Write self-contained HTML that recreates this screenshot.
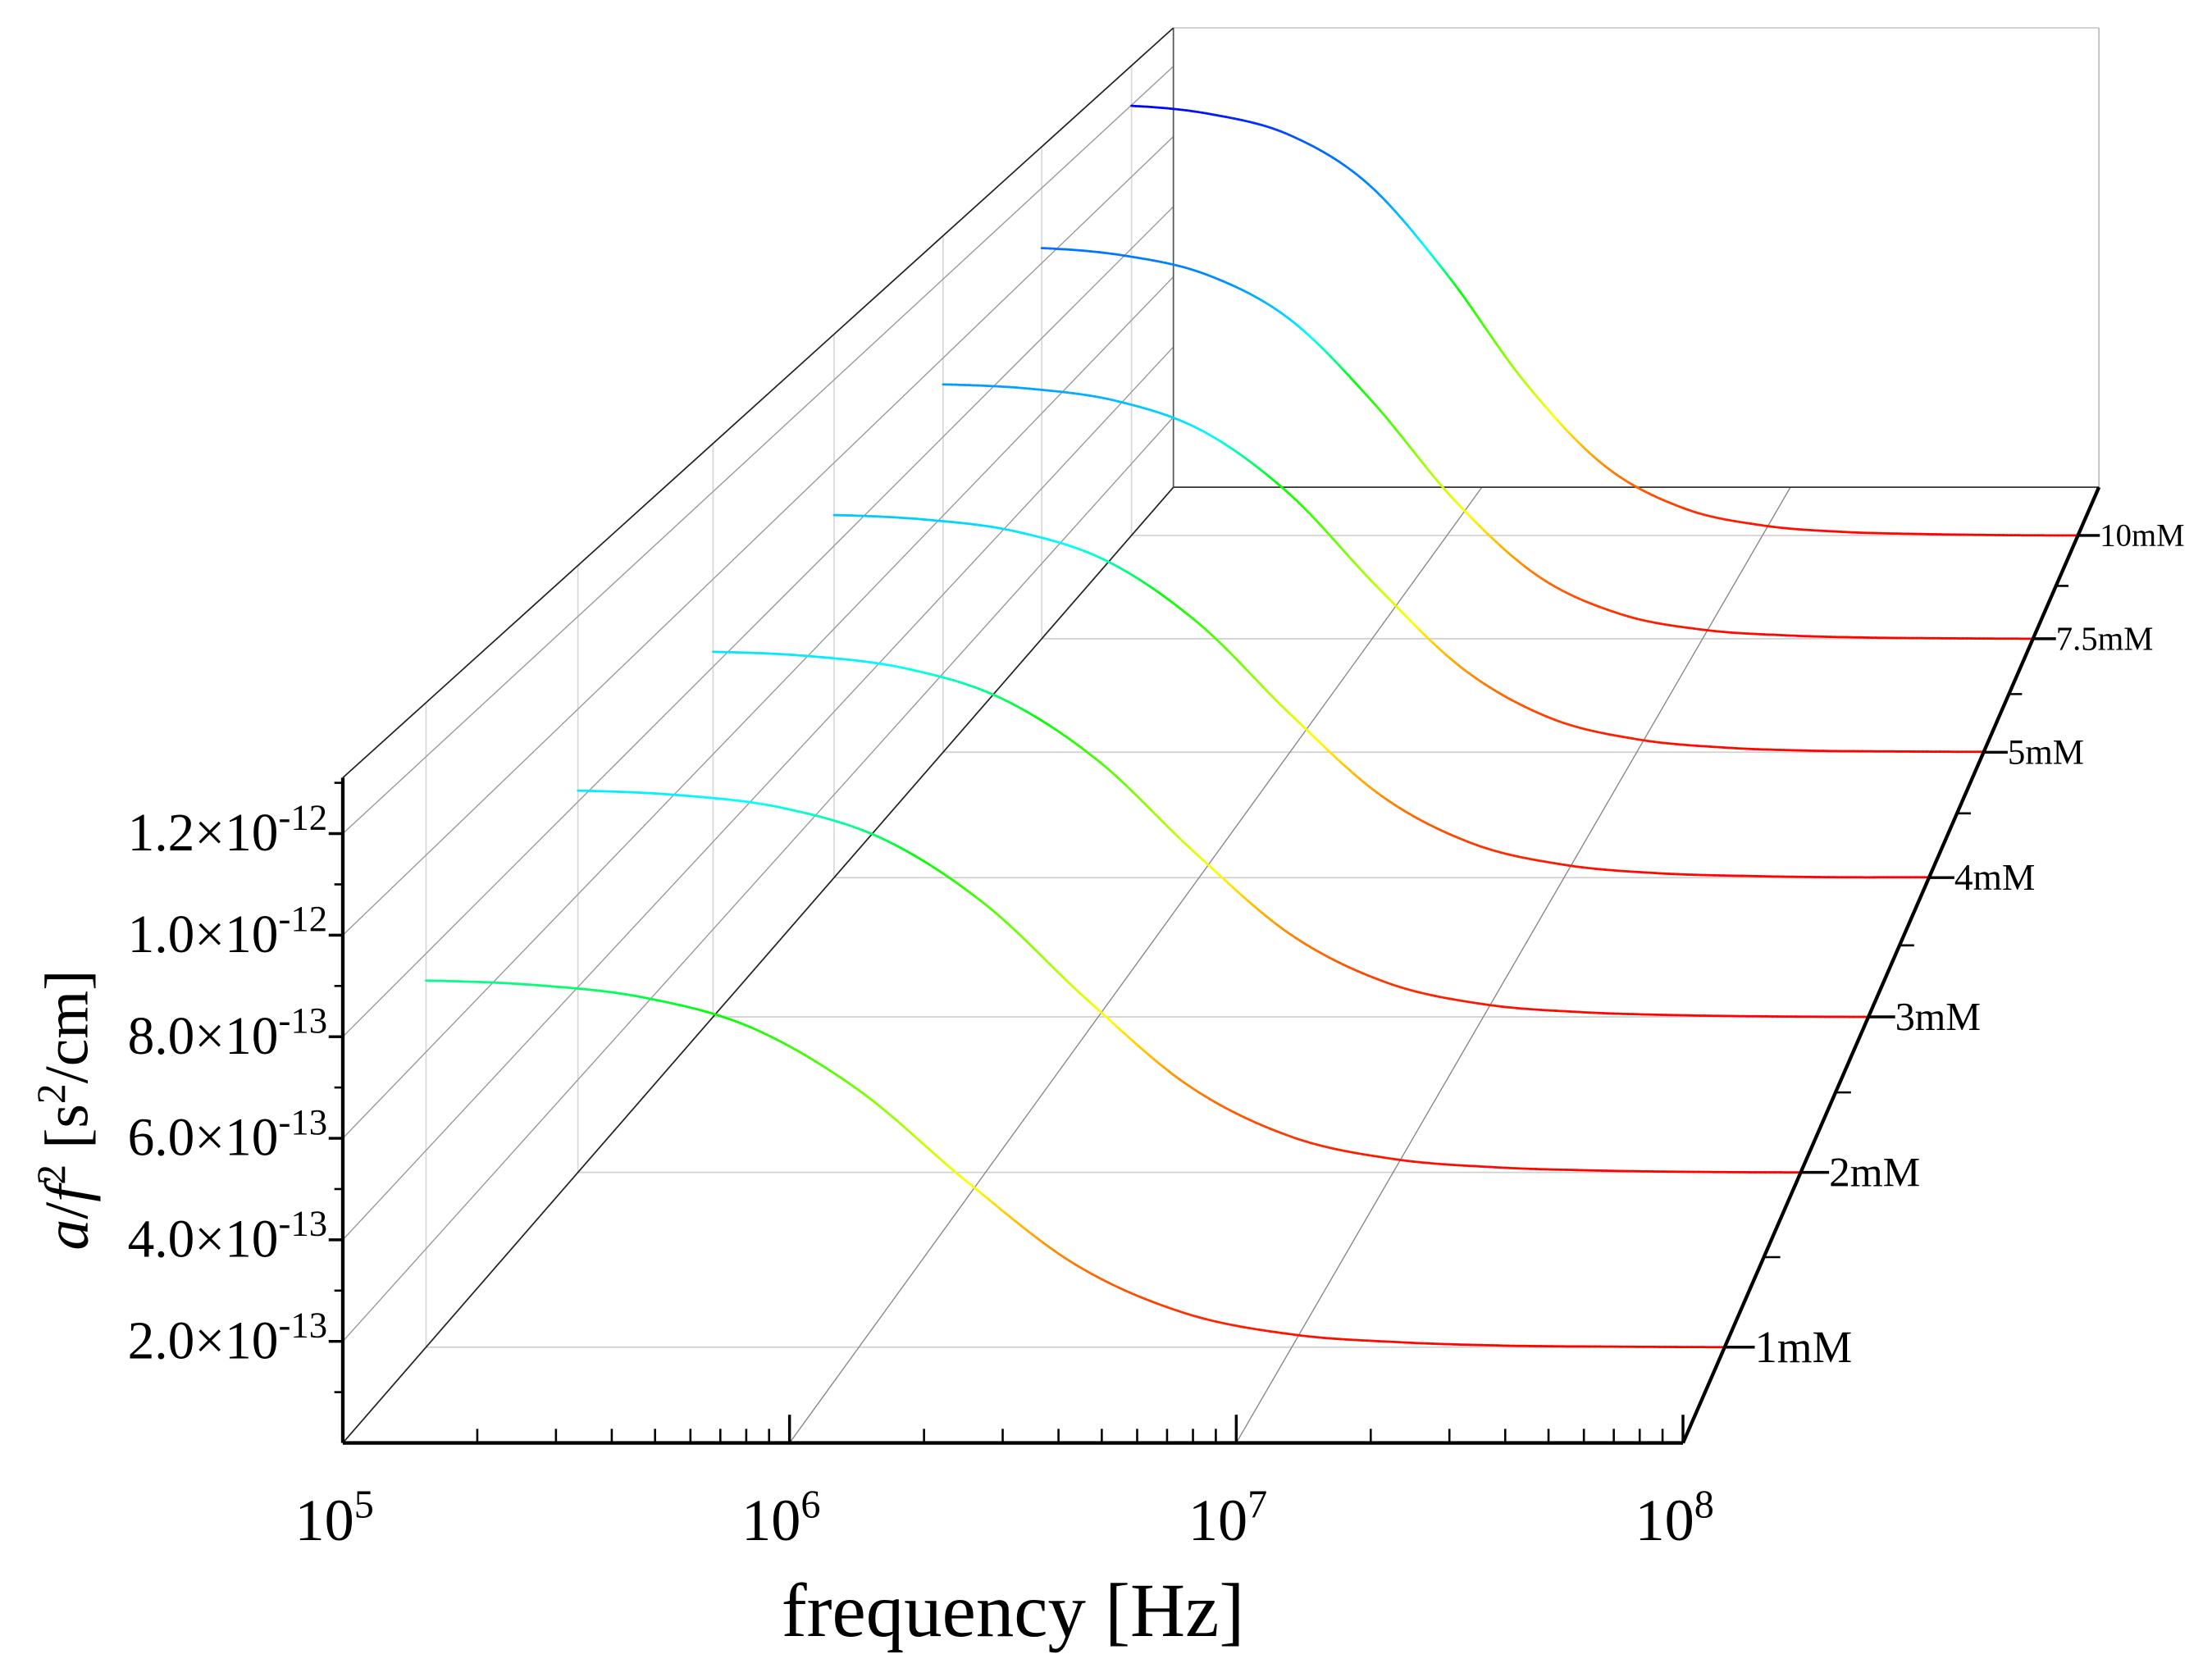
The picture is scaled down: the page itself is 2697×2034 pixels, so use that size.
<!DOCTYPE html>
<html><head><meta charset="utf-8">
<style>
html,body{margin:0;padding:0;background:#fff;}
svg{display:block;}
text{font-family:"Liberation Serif",serif;fill:#000;}
</style></head>
<body>
<svg id="chart" xmlns="http://www.w3.org/2000/svg" width="2697" height="2034" viewBox="0 0 1568 1182.56">
<rect x="0" y="0" width="1568" height="1182.56" fill="#fff"/>
<g id="grid"></g>
<g id="series"></g>
<g id="axes"></g>
<text x="718" y="1160" font-size="54" text-anchor="middle">frequency [Hz]</text>
<text transform="translate(62,787) rotate(-90)" font-size="44" text-anchor="middle"><tspan font-style="italic">a</tspan>/<tspan font-style="italic">f</tspan><tspan dy="-16" font-size="29">2</tspan><tspan dy="16"> [s</tspan><tspan dy="-16" font-size="29">2</tspan><tspan dy="16">/cm]</tspan></text>
</svg>
<script>
const seriesNames = ["1mM","2mM","3mM","4mM","5mM","7.5mM","10mM"];
const logFreqs = [5,5.25,5.5,5.75,6,6.25,6.5,6.75,7,7.25,7.5,7.75,8];
const s1 = [0.745,0.736,0.711,0.650,0.522,0.336,0.168,0.070,0.026,0.010,0.003,0.001,0.000];
const s2 = [0.824,0.814,0.787,0.719,0.578,0.372,0.186,0.077,0.029,0.011,0.004,0.001,0.000];
const s3 = [0.834,0.824,0.796,0.727,0.585,0.376,0.188,0.078,0.029,0.011,0.004,0.001,0.000];
const s4 = [0.874,0.863,0.834,0.762,0.612,0.394,0.197,0.082,0.031,0.011,0.004,0.001,0.001];
const s5 = [0.933,0.922,0.891,0.814,0.654,0.421,0.211,0.087,0.033,0.012,0.004,0.002,0.001];
const s75 = [1.040,1.020,0.969,0.851,0.632,0.368,0.168,0.066,0.024,0.009,0.003,0.001,0.000];
const s10 = [1.198,1.175,1.117,0.980,0.728,0.424,0.194,0.076,0.028,0.010,0.004,0.001,0.000];
const yTicks = [0.2,0.4,0.6,0.8,1.0,1.2];
const yTickLabels = ["2.0","4.0","6.0","8.0","1.0","1.2"];
const yTickExps = ["-13","-13","-13","-13","-12","-12"];
const xDecades = [5,6,7,8];

const allSeries = [s1,s2,s3,s4,s5,s75,s10];
const NS = "http://www.w3.org/2000/svg";
const VPX = 2146, VPY = -1167, K = 0.064, VMAX = 1.31;
function depthScale(d){ return 1/(1+K*(d+0.5)); }
function proj(L, v, d){
  const s = depthScale(d);
  const X0 = 243 + 316.67*(L-5), Y0 = 1023 - 360*v;
  return [VPX + (X0-VPX)*s, VPY + (Y0-VPY)*s];
}
function el(tag, attrs, parent){
  const e = document.createElementNS(NS, tag);
  for (const k in attrs) e.setAttribute(k, attrs[k]);
  parent.appendChild(e); return e;
}
function line(p, q, stroke, w, parent, name){
  const e = el('line',{x1:p[0],y1:p[1],x2:q[0],y2:q[1],stroke:stroke,'stroke-width':w},parent);
  
  
  return e;
}
const grid = document.getElementById('grid');
const axes = document.getElementById('axes');
const ser = document.getElementById('series');
const D0=-0.5, D1=seriesNames.length-0.5;
for (let i=0;i<seriesNames.length;i++){
  line(proj(5,0,i), proj(5,VMAX,i), '#d8d8d8', 1, grid, 'wall-grid-vertical');
  line(proj(5,0,i), proj(8,0,i), '#d0d0d0', 1, grid, 'floor-grid-depth');
}
for (let j=0;j<yTicks.length;j++){
  line(proj(5,yTicks[j],D0), proj(5,yTicks[j],D1), '#999', 0.8, grid, 'wall-grid-y');
}
for (const L of [6,7]) line(proj(L,0,D0), proj(L,0,D1), '#888', 0.8, grid, 'floor-grid-decade');
line(proj(5,VMAX,D1), proj(8,VMAX,D1), '#ccc', 1, grid, 'back-wall-top');
line(proj(8,0,D1), proj(8,VMAX,D1), '#bbb', 1, grid, 'back-wall-right');
line(proj(5,0,D1), proj(5,VMAX,D1), '#555', 1, grid, 'back-wall-left');
line(proj(5,0,D1), proj(8,0,D1), '#333', 1, grid, 'back-floor-edge');
line(proj(5,0,D0), proj(5,0,D1), '#222', 1, grid, 'left-floor-edge');
line(proj(5,VMAX,D0), proj(5,VMAX,D1), '#222', 1, grid, 'left-top-edge');

const stops = [[0,[255,0,0]],[0.18,[255,128,0]],[0.33,[255,255,0]],[0.5,[128,255,0]],[0.68,[0,255,0]],[0.8,[0,255,255]],[0.95,[0,144,255]],[1.1,[0,96,255]],[1.2,[0,0,255]]];
function color(v){
  if (v<=stops[0][0]) return 'rgb(255,0,0)';
  for (let i=1;i<stops.length;i++){
    if (v<=stops[i][0]){
      const a=stops[i-1], b=stops[i], t=(v-a[0])/(b[0]-a[0]);
      const c=a[1].map((x,k)=>Math.round(x+(b[1][k]-x)*t));
      return 'rgb('+c.join(',')+')';
    }
  }
  return 'rgb(0,0,255)';
}
function interp(vals, L){
  const h = logFreqs[1]-logFreqs[0];
  let i = Math.min(Math.floor((L-logFreqs[0])/h), vals.length-2);
  const t = (L-logFreqs[i])/h;
  const p0 = vals[Math.max(i-1,0)], p1=vals[i], p2=vals[i+1], p3=vals[Math.min(i+2,vals.length-1)];
  return 0.5*((2*p1)+(-p0+p2)*t+(2*p0-5*p1+4*p2-p3)*t*t+(-p0+3*p1-3*p2+p3)*t*t*t);
}
for (let i=0;i<allSeries.length;i++){
  const g = el('g',{},ser);
  
  
  const N=240; let prev=null, pv=0;
  for (let n=0;n<=N;n++){
    const L = 5 + 3*n/N;
    const v = Math.max(interp(allSeries[i], L), 0);
    const p = proj(L, v, i);
    if (prev){
      const seg = el('line',{x1:prev[0],y1:prev[1],x2:p[0],y2:p[1],stroke:color((v+pv)/2),'stroke-width':1.6,'stroke-linecap':'round'},g);
      
      
    }
    prev=p; pv=v;
  }
}
line(proj(5,0,D0), proj(8,0,D0), '#000', 2.5, axes, 'x-axis-line');
line(proj(5,0,D0), proj(5,VMAX,D0), '#000', 2.5, axes, 'y-axis-line');
line(proj(8,0,D0), proj(8,0,D1), '#000', 2.5, axes, 'depth-axis-line');
for (let dec=5; dec<8; dec++){
  for (let m=2;m<=9;m++){
    const p = proj(dec+Math.log10(m),0,D0);
    line(p,[p[0],p[1]-10],'#000',1.5,axes,'x-minor-tick');
  }
}
for (const L of xDecades){
  const p = proj(L,0,D0);
  line(p,[p[0],p[1]-20],'#000',2,axes,'x-major-tick');
  const t = el('text',{x:p[0]-6,y:1092,'font-size':42,'text-anchor':'middle'},axes);
  
  
  t.innerHTML = '10<tspan dy="-16" font-size="28">'+L+'</tspan>';
}
for (let j=0;j<yTicks.length;j++){
  const p = proj(5,yTicks[j],D0);
  line(p,[p[0]-10,p[1]],'#000',2,axes,'y-major-tick');
  const pm = proj(5,yTicks[j]-0.1,D0);
  line(pm,[pm[0]-6,pm[1]],'#000',1.5,axes,'y-minor-tick');
  const t = el('text',{x:232,y:p[1]+12,'font-size':38,'text-anchor':'end'},axes);
  
  
  t.innerHTML = yTickLabels[j]+'×10<tspan dy="-15" font-size="26">'+yTickExps[j]+'</tspan>';
}
const pmt = proj(5,1.3,D0); line(pmt,[pmt[0]-6,pmt[1]],'#000',1.5,axes,'y-minor-tick');
for (let i=0;i<seriesNames.length;i++){
  const p = proj(8,0,i), s = depthScale(i);
  line(p,[p[0]+22*s,p[1]],'#000',2,axes,'depth-major-tick');
  const pm = proj(8,0,i+0.5);
  if (i<seriesNames.length-1) line(pm,[pm[0]+12*s,pm[1]],'#000',1.5,axes,'depth-minor-tick');
  const fs = 33*Math.pow(s,1.1);
  const t = el('text',{x:p[0]+22*s,y:p[1]+fs*0.33,'font-size':fs},axes);
  
  
  t.textContent = seriesNames[i];
}
</script>
</body></html>
